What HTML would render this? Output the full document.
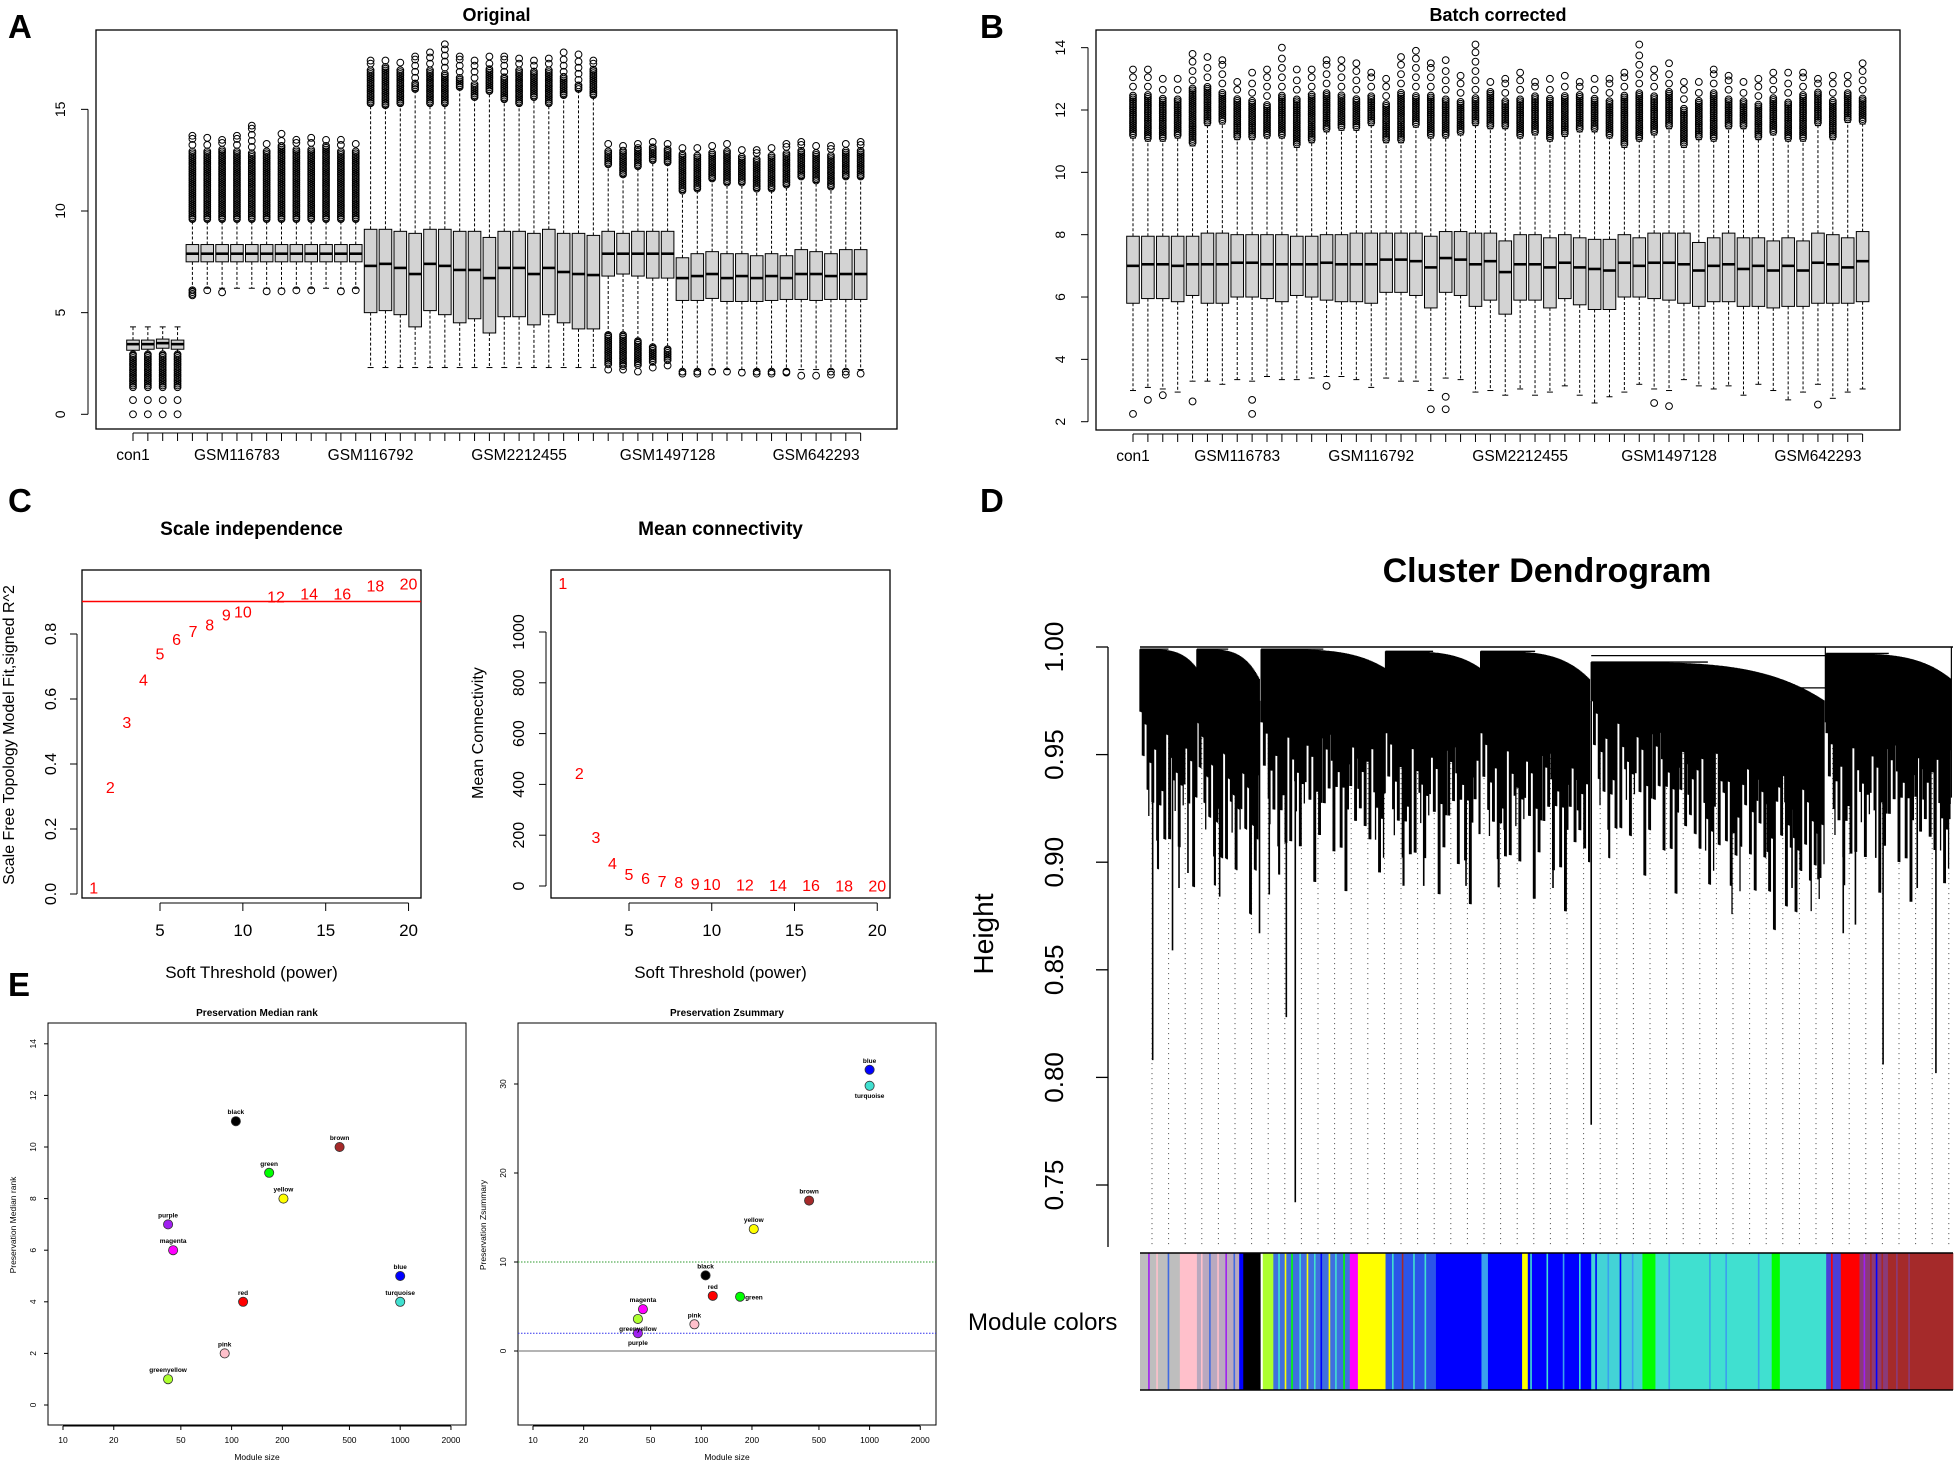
<!DOCTYPE html>
<html><head><meta charset="utf-8"><title>Figure</title>
<style>
html,body{margin:0;padding:0;background:#fff;}
svg{display:block;font-family:"Liberation Sans",sans-serif;}
</style></head>
<body>
<svg id="fig" xmlns="http://www.w3.org/2000/svg" width="1955" height="1464" viewBox="0 0 1955 1464">
<rect x="0" y="0" width="1955" height="1464" fill="#fff"/>
</svg>
<script>
// ---------- Panel A data (Original) ----------
const medA=[3.45,3.45,3.5,3.45, 7.9,7.9,7.9,7.9,7.9,7.9,7.9,7.9,7.9,7.9,7.9,7.9, 7.3,7.4,7.2,6.9,7.4,7.3,7.1,7.1,6.7,7.2,7.2,6.9,7.2,7.0,6.9,6.85, 7.9,7.9,7.9,7.9,7.9, 6.7,6.8,6.9,6.7,6.8,6.7,6.8,6.7,6.9,6.9,6.8,6.9,6.9];
const q1A=[3.15,3.2,3.25,3.2, 7.5,7.5,7.5,7.5,7.5,7.5,7.5,7.5,7.5,7.5,7.5,7.5, 5.0,5.1,4.9,4.3,5.1,4.9,4.5,4.7,4.0,4.8,4.8,4.4,4.9,4.5,4.2,4.2, 6.8,6.9,6.8,6.7,6.7, 5.6,5.6,5.7,5.55,5.55,5.55,5.6,5.65,5.65,5.6,5.65,5.65,5.65];
const q3A=[3.65,3.65,3.7,3.65, 8.35,8.35,8.35,8.35,8.35,8.35,8.35,8.35,8.35,8.35,8.35,8.35, 9.1,9.1,9.0,8.9,9.1,9.1,9.0,9.0,8.7,9.0,9.0,8.9,9.1,8.9,8.9,8.8, 9.0,8.9,9.0,9.0,9.0, 7.7,7.9,8.0,7.9,7.9,7.8,7.9,7.8,8.1,8.0,7.9,8.1,8.1];
const loA=[3.05,3.05,3.05,3.05, 6.2,6.2,6.2,6.2,6.2,6.2,6.2,6.2,6.2,6.2,6.2,6.2, 2.3,2.3,2.3,2.3,2.3,2.3,2.3,2.3,2.3,2.3,2.3,2.3,2.3,2.3,2.3,2.3, 4.0,4.0,3.7,3.4,3.3, 2.2,2.2,2.2,2.2,2.2,2.2,2.2,2.2,2.2,2.2,2.2,2.2,2.2];
const hiA=[4.3,4.3,4.3,4.3, 9.5,9.5,9.5,9.5,9.5,9.5,9.5,9.5,9.5,9.5,9.5,9.5, 15.2,15.1,15.2,15.9,15.2,15.2,16.0,15.5,15.8,15.4,15.2,15.5,15.2,15.6,15.9,15.6, 12.2,11.7,12.1,12.4,12.3, 10.9,11.0,11.5,11.3,11.3,11.0,11.0,11.2,11.6,11.4,11.1,11.6,11.6];
const upDenseA=[4.3,4.3,4.35,4.3, 13.0,13.0,13.1,13.0,12.9,13.0,13.2,13.1,13.1,13.2,13.0,13.0, 17.0,17.1,17.0,16.3,17.0,16.8,16.6,16.3,17.0,16.6,17.0,16.9,17.0,16.6,16.2,17.0, 13.0,13.0,13.1,13.2,13.1, 12.8,12.8,12.9,13.0,12.7,12.6,12.8,12.9,13.0,12.9,12.8,13.0,13.0];
const maxA=[4.3,4.3,4.35,4.3, 13.7,13.6,13.5,13.7,14.2,13.3,13.8,13.5,13.6,13.5,13.5,13.3, 17.4,17.4,17.3,17.6,17.8,18.2,17.6,17.4,17.6,17.6,17.5,17.4,17.5,17.8,17.7,17.4, 13.3,13.2,13.3,13.4,13.3, 13.1,13.1,13.2,13.3,13.0,13.0,13.1,13.3,13.4,13.2,13.2,13.3,13.4];
const lowDenseA=[1.3,1.3,1.3,1.3, 5.9,6.2,6.2,6.2,6.2,6.2,6.2,6.2,6.2,6.2,6.2,6.2, 2.3,2.3,2.3,2.3,2.3,2.3,2.3,2.3,2.3,2.3,2.3,2.3,2.3,2.3,2.3,2.3, 2.4,2.3,2.4,2.5,2.6, 2.1,2.1,2.2,2.2,2.2,2.1,2.1,2.1,2.2,2.2,2.1,2.1,2.2];
const lowMinA=[0,0,0,0, 5.85,6.1,6.0,6.2,6.2,6.05,6.05,6.1,6.1,6.2,6.05,6.1, 2.3,2.3,2.3,2.3,2.3,2.3,2.3,2.3,2.3,2.3,2.3,2.3,2.3,2.3,2.3,2.3, 2.2,2.2,2.1,2.3,2.4, 2.0,2.0,2.1,2.1,2.05,2.0,2.0,2.05,1.9,1.9,1.95,1.95,2.0];
const ticksA=[0,5,10,15];
const labelsA=["con1","GSM116783","GSM116792","GSM2212455","GSM1497128","GSM642293"];
const labelPosA=[0,7,16,26,36,46];

// ---------- Panel B data (Batch corrected) ----------
const medB=[7.0,7.05,7.05,7.0,7.05,7.05,7.05,7.1,7.1,7.05, 7.05,7.05,7.05,7.1,7.05,7.05,7.05,7.2,7.2,7.15, 6.95,7.25,7.2,7.05,7.15,6.8,7.05,7.05,6.95,7.1, 6.95,6.9,6.85,7.1,7.0,7.1,7.1,7.05,6.85,7.0, 7.05,6.9,7.0,6.85,7.0,6.85,7.1,7.05,6.95,7.15];
const q1B=[5.8,5.95,5.95,5.85,6.05,5.8,5.8,6.0,6.0,5.95, 5.85,6.05,6.0,5.9,5.85,5.85,5.8,6.15,6.15,6.05, 5.65,6.15,6.05,5.7,5.9,5.45,5.9,5.9,5.65,5.95, 5.75,5.6,5.6,6.0,6.0,5.95,5.9,5.8,5.7,5.85, 5.85,5.7,5.7,5.65,5.7,5.7,5.8,5.8,5.8,5.85];
const q3B=[7.95,7.95,7.95,7.95,7.95,8.05,8.05,8.0,8.0,8.0, 8.0,7.95,7.95,8.0,8.0,8.05,8.05,8.05,8.05,8.05, 7.95,8.1,8.1,8.05,8.05,7.8,8.0,8.0,7.9,8.0, 7.9,7.85,7.85,8.0,7.9,8.05,8.05,8.05,7.75,7.9, 8.05,7.9,7.9,7.8,7.9,7.8,8.05,8.0,7.9,8.1];
const loB=[3.0,3.1,3.05,2.95,3.3,3.3,3.2,3.35,3.3,3.45, 3.35,3.35,3.4,3.45,3.45,3.35,3.1,3.4,3.3,3.3, 3.0,3.4,3.35,2.95,3.0,2.85,3.05,2.85,2.95,3.15, 2.85,2.6,2.8,2.95,3.2,3.05,3.0,3.35,3.15,3.05, 3.15,2.85,3.2,3.0,2.7,2.95,3.2,2.75,2.95,3.05];
const hiB=[11.1,11.0,11.0,11.1,10.85,11.5,11.55,11.05,11.05,11.1, 11.1,10.8,10.95,11.3,11.35,11.35,11.5,10.95,10.95,11.45, 11.1,11.1,11.2,11.5,11.4,11.4,11.1,11.2,11.0,11.15, 11.3,11.3,11.1,10.8,11.0,11.2,11.4,10.8,11.05,11.0, 11.4,11.4,11.05,11.2,11.0,11.0,11.5,11.05,11.6,11.55];
const upDenseB=[12.5,12.5,12.4,12.4,12.7,12.8,12.6,12.4,12.3,12.2, 12.5,12.4,12.5,12.6,12.5,12.4,12.5,12.2,12.6,12.5, 12.5,12.4,12.3,12.4,12.6,12.3,12.4,12.5,12.4,12.5, 12.5,12.4,12.3,12.5,12.6,12.5,12.6,12.1,12.3,12.6, 12.4,12.3,12.2,12.4,12.3,12.5,12.6,12.3,12.6,12.4];
const maxB=[13.3,13.3,13.0,13.0,13.8,13.7,13.6,12.9,13.2,13.3, 14.0,13.3,13.3,13.6,13.6,13.5,13.2,13.0,13.7,13.9, 13.5,13.6,13.1,14.1,12.9,13.0,13.2,12.9,13.0,13.1, 12.9,13.0,13.0,13.2,14.1,13.3,13.5,12.9,12.9,13.3, 13.1,12.9,13.0,13.2,13.2,13.2,13.0,13.1,13.1,13.5];
const lowMinB=[2.25,2.7,2.85,0,2.65,0,0,0,2.25,0, 0,0,0,3.15,0,0,0,0,0,0, 2.4,2.4,0,0,0,0,0,0,0,0, 0,0,0,0,0,2.6,2.5,0,0,0, 0,0,0,0,0,0,2.55,0,0,0];
const ticksB=[2,4,6,8,10,12,14];
const labelsB=["con1","GSM116783","GSM116792","GSM2212455","GSM1497128","GSM642293"];

// ---------- Panel C data ----------
const powers=[1,2,3,4,5,6,7,8,9,10,12,14,16,18,20];
const fitR2=[0.02,0.33,0.53,0.66,0.74,0.785,0.81,0.83,0.86,0.87,0.915,0.925,0.925,0.95,0.955];
const meanK=[1193,445,193,91,47,31,20,15,9,7,5,4,3,2,2];
const ticksCx=[5,10,15,20];
const ticksCy=[0,0.2,0.4,0.6,0.8];
const ticksKy=[0,200,400,600,800,1000];

// ---------- Panel E data ----------
const modNames=["black","brown","green","yellow","purple","magenta","blue","turquoise","red","pink","greenyellow"];
const modColors=["#000000","#a52a2a","#00ff00","#ffff00","#a020f0","#ff00ff","#0000ff","#40e0d0","#ff0000","#ffc0cb","#adff2f"];
const modSize=[106,437,167,203,42,45,1000,1000,117,91,42];
const medRank=[11,10,9,8,7,6,5,4,4,2,1];
const zSize=[106,437,170,205,42,45,1000,1000,117,91,42];
const zSummary=[8.5,16.9,6.1,13.7,2.0,4.7,31.6,29.8,6.2,3.0,3.6];
const sizeTicks=[10,20,50,100,200,500,1000,2000];
const rankTicks=[0,2,4,6,8,10,12,14];
const zTicks=[0,10,20,30];

// ---------- Panel D data ----------
const clStart=[0,0.070,0.149,0.302,0.419,0.555,0.844];
const clEnd=[0.070,0.147,0.302,0.419,0.553,0.842,0.998];
const clTopL=[0.999,0.999,0.999,0.998,0.998,0.993,0.997];
const clTopR=[0.99,0.985,0.99,0.99,0.985,0.975,0.985];
const clBotL=[0.97,0.965,0.965,0.96,0.96,0.975,0.96];
const clBotR=[0.96,0.945,0.96,0.955,0.95,0.935,0.955];
const dropX=[0.0156,0.040,0.048,0.059,0.098,0.147,0.159,0.180,0.191,0.349,0.401,0.448,0.508,0.555,0.727,0.802,0.834,0.865,0.880,0.905,0.914,0.956,0.979,0.996];
const dropH=[0.808,0.859,0.888,0.895,0.884,0.867,0.885,0.828,0.742,0.889,0.889,0.915,0.888,0.778,0.906,0.888,0.892,0.867,0.871,0.902,0.806,0.888,0.802,0.92];
const heightTicks=[0.75,0.80,0.85,0.90,0.95,1.00];
const segStart=[0,0.049,0.070,0.122,0.127,0.151,0.164,0.258,0.268,0.302,0.364,0.420,0.428,0.470,0.477,0.555,0.618,0.634,0.777,0.787,0.844,0.862,0.885,0.920];
const segEnd=[0.049,0.070,0.122,0.127,0.148,0.164,0.258,0.268,0.302,0.364,0.420,0.428,0.470,0.477,0.555,0.618,0.634,0.777,0.787,0.844,0.862,0.885,0.920,1.0];
const segColor=["#bebebe","#ffc0cb","#b9a9bf","#0000ff","#000000","#adff2f","#3f6fe0","#ff00ff","#ffff00","#2b55e8","#0000ff","#3aa0ee","#0000ff","#ffff00","#0000ff","#43d3d6","#00ff00","#40e0d0","#00ff00","#40e0d0","#4b3fd8","#ff0000","#8a3a7a","#a52a2a"];
const stripeX=[0.010,0.020,0.034,0.075,0.085,0.095,0.105,0.115,0.170,0.178,0.186,0.196,0.205,0.214,0.222,0.232,0.240,0.250,0.310,0.322,0.336,0.350,0.480,0.500,0.520,0.540,0.560,0.575,0.590,0.605,0.650,0.700,0.720,0.760,0.850,0.890,0.898,0.905,0.912,0.930,0.945];
const stripeC=["#a020f0","#ffc0cb","#4169e1","#ffc0cb","#4169e1","#ffc0cb","#a020f0","#4169e1","#40e0d0","#ffff00","#00ff00","#40e0d0","#ffff00","#40e0d0","#0000ff","#ffff00","#40e0d0","#00ff00","#40e0d0","#a52a2a","#40e0d0","#40e0d0","#40e0d0","#40e0d0","#3aa0ee","#40e0d0","#0000ff","#3aa0ee","#0000ff","#3aa0ee","#3aa0ee","#3aa0ee","#3aa0ee","#3aa0ee","#ff0000","#a020f0","#a52a2a","#0000ff","#a52a2a","#8a3a7a","#8a3a7a"];

// ---------- helpers ----------
const NS='http://www.w3.org/2000/svg';
const svg=document.getElementById('fig');
function mk(tag,attrs,parent){const e=document.createElementNS(NS,tag);for(const k in attrs)e.setAttribute(k,attrs[k]);(parent||svg).appendChild(e);return e;}
function txt(x,y,s,attrs,parent){const t=mk('text',Object.assign({x:x,y:y},attrs||{}),parent);t.textContent=s;return t;}
function grp(name){const g=mk('g',{});return g;}

// ---------- Boxplot panel ----------
function boxPanel(cfg){
  const g=grp(cfg.name);
  const fr=mk('rect',{x:cfg.x0,y:cfg.y0,width:cfg.x1-cfg.x0,height:cfg.y1-cfg.y0,fill:'none',stroke:'#000','stroke-width':1.3},g);
  
  
  const tt=txt((cfg.x0+cfg.x1)/2,21,cfg.title,{'text-anchor':'middle','font-size':18,'font-weight':'bold'},g);
  
  
  const Y=cfg.Y, X=cfg.X;
  const yax=mk('line',{x1:cfg.x0-8,x2:cfg.x0-8,y1:Y(cfg.ticks[0]),y2:Y(cfg.ticks[cfg.ticks.length-1]),stroke:'#000'},g);
  
  
  cfg.ticks.forEach(v=>{
    mk('line',{x1:cfg.x0-15,x2:cfg.x0-8,y1:Y(v),y2:Y(v),stroke:'#000'},g);
    const t=txt(cfg.labX,Y(v),String(v),{'text-anchor':'middle','font-size':14,transform:`rotate(-90 ${cfg.labX} ${Y(v)})`,dy:5},g);
    
    
  });
  const n=cfg.med.length;
  const xax=mk('line',{x1:X(0),x2:X(n-1),y1:cfg.y1+4,y2:cfg.y1+4,stroke:'#000'},g);
  
  
  for(let i=0;i<n;i++){
    mk('line',{x1:X(i),x2:X(i),y1:cfg.y1+4,y2:cfg.y1+12,stroke:'#000'},g);
  }
  cfg.labels.forEach((s,k)=>{
    const t=txt(X(cfg.labelPos[k]),cfg.y1+31,s,{'text-anchor':'middle','font-size':15.5},g);
    
    
  });
  const hw=6.3, r=3.4;
  for(let i=0;i<n;i++){
    const bg=mk('g',{},g);
    
    
    const x=X(i);
    mk('line',{x1:x,x2:x,y1:Y(cfg.q3[i]),y2:Y(cfg.hi[i]),stroke:'#000','stroke-dasharray':'3,2'},bg);
    mk('line',{x1:x,x2:x,y1:Y(cfg.q1[i]),y2:Y(cfg.lo[i]),stroke:'#000','stroke-dasharray':'3,2'},bg);
    mk('line',{x1:x-3,x2:x+3,y1:Y(cfg.hi[i]),y2:Y(cfg.hi[i]),stroke:'#000'},bg);
    mk('line',{x1:x-3,x2:x+3,y1:Y(cfg.lo[i]),y2:Y(cfg.lo[i]),stroke:'#000'},bg);
    const b=mk('rect',{x:x-hw,y:Y(cfg.q3[i]),width:2*hw,height:Y(cfg.q1[i])-Y(cfg.q3[i]),fill:'#d3d3d3',stroke:'#000','stroke-width':1},bg);
    
    
    const m=mk('line',{x1:x-hw,x2:x+hw,y1:Y(cfg.med[i]),y2:Y(cfg.med[i]),stroke:'#000','stroke-width':2.6},bg);
    
    
    let d='';
    const circ=(v)=>{const cy=Y(v);d+=`M${x-r},${cy}a${r},${r} 0 1,0 ${2*r},0a${r},${r} 0 1,0 ${-2*r},0`;};
    const ud=cfg.upDense[i];
    if(ud>cfg.hi[i]+0.02){for(let v=cfg.hi[i]+0.1;v<=ud;v+=cfg.step)circ(v);}
    if(cfg.max[i]>ud+0.05){let v=ud+0.25;while(v<cfg.max[i]-0.1){circ(v);v+=0.3;}circ(cfg.max[i]);}
    const ld=cfg.lowDense?cfg.lowDense[i]:cfg.lo[i];
    if(ld<cfg.lo[i]-0.02){for(let v=cfg.lo[i]-0.1;v>=ld;v-=cfg.step)circ(v);}
    const lm=cfg.lowMin[i];
    if(lm>0 || cfg.allowZero){ if(lm<ld-0.02){ let v=ld-0.6; while(v>lm+0.3){circ(v);v-=0.6;} circ(lm);} else if(lm>0 && lm<cfg.lo[i]-0.02 && !cfg.lowDense){circ(lm);} }
    if(d){const p=mk('path',{d:d,fill:'none',stroke:'#000','stroke-width':1},bg);
      
      }
  }
}
boxPanel({name:'panel-a-original',title:'Original',x0:96,x1:897,y0:30,y1:429,labX:60,
  Y:v=>414.3-20.33*v, X:i=>133+i*14.85, ticks:ticksA, labels:labelsA, labelPos:labelPosA,
  med:medA,q1:q1A,q3:q3A,lo:loA,hi:hiA,upDense:upDenseA,max:maxA,lowDense:lowDenseA,lowMin:lowMinA,step:0.09,allowZero:true});
const lowMinB2=lowMinB.map((v,i)=>v>0?v:loB[i]);
boxPanel({name:'panel-b-batch-corrected',title:'Batch corrected',x0:1096,x1:1900,y0:30,y1:430,labX:1060,
  Y:v=>421.7-31.17*(v-2), X:i=>1133+i*14.89, ticks:ticksB, labels:labelsB, labelPos:labelPosA,
  med:medB,q1:q1B,q3:q3B,lo:loB,hi:hiB,upDense:upDenseB,max:maxB,lowDense:null,lowMin:lowMinB2,step:0.06,allowZero:false});

// ---------- Panel letters ----------
[['A',8,38],['B',980,38],['C',8,512],['D',980,512],['E',8,996]].forEach(a=>{
  const t=txt(a[1],a[2],a[0],{'font-size':33,'font-weight':'bold'});
  
  
});

// ---------- Panel C ----------
function scatterText(cfg){
  const g=grp(cfg.name);
  const fr=mk('rect',{x:cfg.x0,y:570,width:cfg.x1-cfg.x0,height:328,fill:'none',stroke:'#000','stroke-width':1.3},g);
  
  
  const cx=(cfg.x0+cfg.x1)/2;
  const t1=txt(cx,535,cfg.title,{'text-anchor':'middle','font-size':19,'font-weight':'bold'},g);
  
  
  const t2=txt(cx,978,'Soft Threshold (power)',{'text-anchor':'middle','font-size':17},g);
  
  
  const t3=txt(cfg.ylabX,cfg.ylabY,cfg.ylab,{'text-anchor':'middle','font-size':cfg.ylabSize,transform:`rotate(-90 ${cfg.ylabX} ${cfg.ylabY})`},g);
  
  
  const X=cfg.X,Y=cfg.Y;
  mk('line',{x1:X(5),x2:X(20),y1:903,y2:903,stroke:'#000'},g);
  ticksCx.forEach(v=>{mk('line',{x1:X(v),x2:X(v),y1:903,y2:911,stroke:'#000'},g);
    const t=txt(X(v),936,String(v),{'text-anchor':'middle','font-size':17},g);
    
    });
  const ty=cfg.ticks;
  mk('line',{x1:cfg.x0-5,x2:cfg.x0-5,y1:Y(ty[0]),y2:Y(ty[ty.length-1]),stroke:'#000'},g);
  ty.forEach(v=>{mk('line',{x1:cfg.x0-12,x2:cfg.x0-5,y1:Y(v),y2:Y(v),stroke:'#000'},g);
    const lx=cfg.tickLabX, s=cfg.fmt(v);
    const t=txt(lx,Y(v),s,{'text-anchor':'middle','font-size':16,dy:5,transform:`rotate(-90 ${lx} ${Y(v)})`},g);
    
    });
  if(cfg.hline!==undefined){const l=mk('line',{x1:cfg.x0,x2:cfg.x1,y1:Y(cfg.hline),y2:Y(cfg.hline),stroke:'#ff0000','stroke-width':1.5},g);
    
    }
  powers.forEach((p,i)=>{const t=txt(X(p),Y(cfg.vals[i])+6,String(p),{'text-anchor':'middle','font-size':16,fill:'#ff0000'},g);
    
    });
}
scatterText({name:'panel-c-scale-independence',title:'Scale independence',x0:82,x1:421,
  X:p=>160+(p-5)*16.57, Y:v=>894-325*v, ticks:ticksCy, fmt:v=>v.toFixed(1), tickLabX:51,
  ylab:'Scale Free Topology Model Fit,signed R^2', ylabX:14, ylabY:735, ylabSize:16, vals:fitR2, hline:0.9});
scatterText({name:'panel-c-mean-connectivity',title:'Mean connectivity',x0:551,x1:890,
  X:p=>629+(p-5)*16.55, Y:v=>886-0.254*v, ticks:ticksKy, fmt:v=>String(v), tickLabX:519,
  ylab:'Mean Connectivity', ylabX:483, ylabY:733, ylabSize:16, vals:meanK});

// ---------- Panel E ----------
function presPanel(cfg){
  const g=grp(cfg.name);
  const fr=mk('rect',{x:cfg.x0,y:1023,width:cfg.x1-cfg.x0,height:402,fill:'none',stroke:'#000','stroke-width':1},g);
  
  
  const cx=(cfg.x0+cfg.x1)/2;
  const t1=txt(cx,1016,cfg.title,{'text-anchor':'middle','font-size':10,'font-weight':'bold'},g);
  
  
  const t2=txt(cx,1460,'Module size',{'text-anchor':'middle','font-size':8.5},g);
  
  
  const t3=txt(cfg.ylabX,1225,cfg.ylab,{'text-anchor':'middle','font-size':8.5,transform:`rotate(-90 ${cfg.ylabX} 1225)`},g);
  
  
  const X=cfg.X,Y=cfg.Y;
  mk('line',{x1:X(10),x2:X(2000),y1:1426,y2:1426,stroke:'#000'},g);
  sizeTicks.forEach(s=>{mk('line',{x1:X(s),x2:X(s),y1:1426,y2:1430,stroke:'#000'},g);
    const t=txt(X(s),1443,String(s),{'text-anchor':'middle','font-size':8.5},g);
    
    });
  cfg.ticks.forEach(v=>{mk('line',{x1:cfg.x0-4,x2:cfg.x0,y1:Y(v),y2:Y(v),stroke:'#000'},g);
    const t=txt(cfg.tickLabX,Y(v),String(v),{'text-anchor':'middle','font-size':8.5,dy:3,transform:`rotate(-90 ${cfg.tickLabX} ${Y(v)})`},g);
    
    });
  if(cfg.lines){
    const l0=mk('line',{x1:cfg.x0,x2:cfg.x1,y1:Y(0),y2:Y(0),stroke:'#888','stroke-width':1.2},g);
    
    
    const l1=mk('line',{x1:cfg.x0,x2:cfg.x1,y1:Y(10),y2:Y(10),stroke:'#2e9a2e','stroke-dasharray':'1.5,1.5'},g);
    
    
    const l2=mk('line',{x1:cfg.x0,x2:cfg.x1,y1:Y(2),y2:Y(2),stroke:'#3333ee','stroke-dasharray':'1.5,1.5'},g);
    
    
  }
  modNames.forEach((nm,i)=>{
    const px=X(cfg.sizes[i]),py=Y(cfg.vals[i]);
    const c=mk('circle',{cx:px,cy:py,r:4.6,fill:modColors[i],stroke:'#333','stroke-width':0.8},g);
    
    
    const pos=(cfg.labelPos&&cfg.labelPos[nm])||'above';
    let lx=px,ly=py-7,anc='middle';
    if(pos==='below'){ly=py+12;}
    if(pos==='right'){lx=px+5;ly=py+3;anc='start';}
    const t=txt(lx,ly,nm,{'text-anchor':anc,'font-size':6.5,'font-weight':'bold'},g);
    
    
  });
}
presPanel({name:'panel-e-median-rank',title:'Preservation Median rank',x0:48,x1:466,
  X:s=>63+(Math.log10(s)-1)*168.6, Y:v=>1405-25.8*v, ticks:rankTicks, tickLabX:33, ylabX:16,
  ylab:'Preservation Median rank', sizes:modSize, vals:medRank});
presPanel({name:'panel-e-zsummary',title:'Preservation Zsummary',x0:518,x1:936,
  X:s=>533+(Math.log10(s)-1)*168.3, Y:v=>1351-8.9*v, ticks:zTicks, tickLabX:503, ylabX:486,
  ylab:'Preservation Zsummary', sizes:zSize, vals:zSummary, lines:true,
  labelPos:{turquoise:'below',green:'right',greenyellow:'below',purple:'below'}});

// ---------- Panel D: dendrogram ----------
(function(){
  const g=grp('panel-d-cluster-dendrogram');
  const DX0=1140, DX1=1953;
  const XD=f=>DX0+f*(DX1-DX0);
  const YD=v=>647+(1-v)*2152;
  const t=txt(1547,582,'Cluster Dendrogram',{'text-anchor':'middle','font-size':34,'font-weight':'bold'},g);
  
  
  const hl=txt(993,934,'Height',{'text-anchor':'middle','font-size':28,transform:'rotate(-90 993 934)'},g);
  
  
  const ax=mk('line',{x1:1108,x2:1108,y1:YD(1.0),y2:1247,stroke:'#000','stroke-width':1.3},g);
  
  
  heightTicks.forEach(v=>{mk('line',{x1:1096,x2:1108,y1:YD(v),y2:YD(v),stroke:'#000','stroke-width':1.3},g);
    const l=txt(1063,YD(v),v.toFixed(2),{'text-anchor':'middle','font-size':26,transform:`rotate(-90 1063 ${YD(v)})`},g);
    
    });
  let dd='';
  for(let x=DX0+12;x<DX1-4;x+=16.6){dd+=`M${x.toFixed(1)},${YD(0.96)}V1245`;}
  const dp=mk('path',{d:dd,stroke:'#444','stroke-width':1,'stroke-dasharray':'1,4',fill:'none'},g);
  
  
  const jag=[0,0.02,0.005,0.035,0.01,0.028,0.003,0.045,0.015,0.008,0.03,0.002,0.05,0.012,0.022,0.004,0.038,0.009,0.018,0.001,0.026,0.006,0.042];
  const jag2=[0,0.012,0.025,0.004,0.018,0.008,0.03];
  clStart.forEach((s,c)=>{
    let d='',k=0;
    const xa=XD(s),xb=XD(clEnd[c]);
    for(let x=xa;x<=xb;x+=0.8,k++){
      const f=(x-xa)/(xb-xa);
      const tp=clTopL[c]+(clTopR[c]-clTopL[c])*Math.pow(f,4);
      const bot=clBotL[c]+(clBotR[c]-clBotL[c])*f-jag[Math.floor(k/3)%jag.length]-jag2[Math.floor(k/11)%jag2.length];
      d+=`M${x.toFixed(2)},${YD(tp).toFixed(1)}V${YD(bot).toFixed(1)}`;
    }
    const p=mk('path',{d:d,stroke:'#000','stroke-width':1.3,fill:'none'},g);
    
    
    mk('line',{x1:xa,x2:(xa+xb)/2,y1:YD(clTopL[c]),y2:YD(clTopL[c]),stroke:'#000','stroke-width':1.3},g);
  });
  const top=mk('line',{x1:XD(0),x2:XD(1),y1:YD(1.0),y2:YD(1.0),stroke:'#000','stroke-width':1.6},g);
  
  
  mk('line',{x1:XD(0.555),x2:XD(0.843),y1:YD(0.996),y2:YD(0.996),stroke:'#000','stroke-width':1.2},g);
  mk('line',{x1:XD(0.72),x2:XD(0.843),y1:YD(0.981),y2:YD(0.981),stroke:'#000','stroke-width':1.2},g);
  mk('line',{x1:XD(0.843),x2:XD(0.843),y1:YD(1.0),y2:YD(0.965),stroke:'#000','stroke-width':1.2},g);
  mk('line',{x1:XD(0.998),x2:XD(0.998),y1:YD(1.0),y2:YD(0.93),stroke:'#000','stroke-width':1.2},g);
  dropX.forEach((f,i)=>{
    const l=mk('line',{x1:XD(f),x2:XD(f),y1:YD(0.975),y2:YD(dropH[i]),stroke:'#000','stroke-width':1.6},g);
    
    
  });
  const bg=grp('module-color-bar');
  const BY0=1253,BY1=1390;
  segStart.forEach((s,i)=>{
    const r=mk('rect',{x:XD(s),y:BY0,width:Math.max(0.5,XD(segEnd[i])-XD(s)+0.3),height:BY1-BY0,fill:segColor[i]},bg);
    
    
  });
  stripeX.forEach((f,i)=>{
    const r=mk('rect',{x:XD(f),y:BY0,width:1.6,height:BY1-BY0,fill:stripeC[i]},bg);
    
    
  });
  mk('line',{x1:XD(0),x2:XD(1),y1:BY0,y2:BY0,stroke:'#000','stroke-width':1.5},bg);
  mk('line',{x1:XD(0),x2:XD(1),y1:BY1,y2:BY1,stroke:'#000','stroke-width':1.5},bg);
  const ml=txt(968,1330,'Module colors',{'font-size':24},g);
  
  
})();
</script>
</body></html>
